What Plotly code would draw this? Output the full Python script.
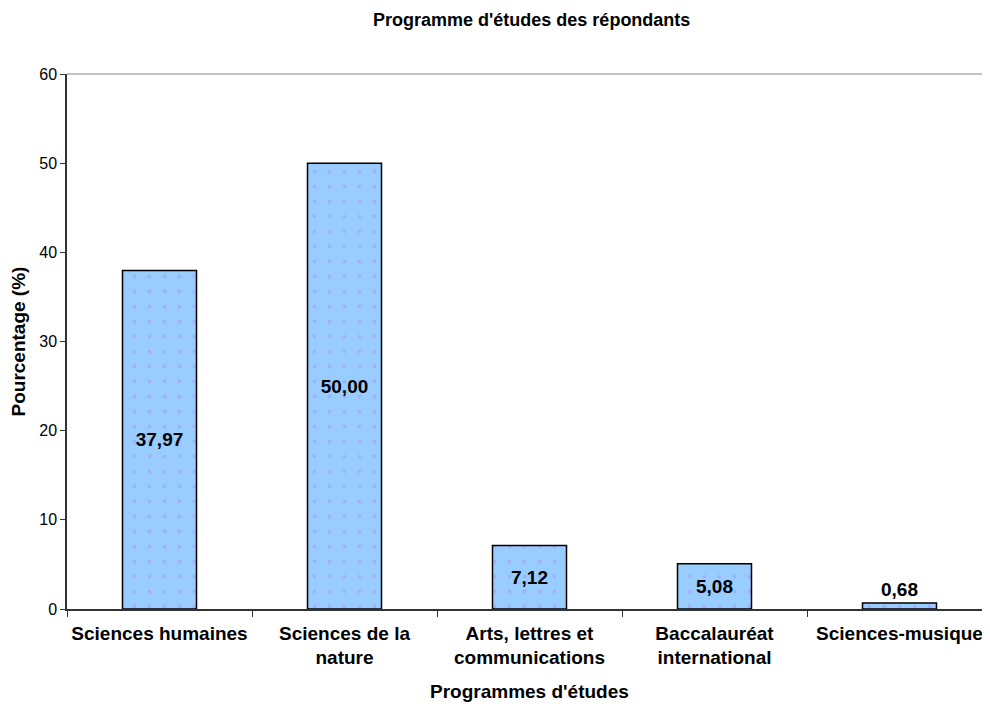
import plotly.graph_objects as go

categories = ["Sciences humaines", "Sciences de la<br>nature", "Arts, lettres et<br>communications",
              "Baccalauréat<br>international", "Sciences-musique"]
values = [37.97, 50.00, 7.12, 5.08, 0.68]
labels = [f"{v:.2f}".replace(".", ",") for v in values]
positions = ["inside", "inside", "inside", "inside", "outside"]
y_ticks = [0, 10, 20, 30, 40, 50, 60]

FONT = "Liberation Sans, Arial, sans-serif"
LBL = dict(family=FONT, size=19, color="black", weight="bold")

fig = go.Figure(go.Bar(
    x=categories, y=values, text=labels, textposition=positions,
    insidetextanchor="middle", textangle=0, cliponaxis=False,
    textfont=LBL, outsidetextfont=LBL, insidetextfont=LBL,
    marker=dict(color="#99CCFF", line=dict(color="black", width=1.5),
                pattern=dict(shape=".", fgcolor="#A894F5", bgcolor="#99CCFF", size=15, solidity=0.05)),
    width=0.4,
))

fig.update_layout(
    width=990, height=704,
    margin=dict(l=59, r=6, t=66, b=103),
    plot_bgcolor="white", paper_bgcolor="white",
    showlegend=False,
    font=dict(family=FONT, color="black"),
    title=dict(text="<b>Programme d'études des répondants</b>", x=0.529, xanchor="center",
               y=0.983, yanchor="middle", font=dict(size=18, family=FONT)),
    xaxis=dict(showline=True, linecolor="#333333", linewidth=1.5, tickson="boundaries",
               ticks="outside", ticklen=6, tickcolor="#333333", showgrid=False, automargin=False,
               tickangle=0, ticklabelstandoff=6,
               tickfont=dict(size=19, family=FONT, weight="bold"), range=[-0.5, 4.5]),
    yaxis=dict(range=[0, 60], tickvals=y_ticks, showline=True, linecolor="#333333", linewidth=1.5,
               ticks="outside", ticklen=5, tickcolor="#333333", showgrid=False, zeroline=False,
               automargin=False, tickfont=dict(size=16, family=FONT)),
    shapes=[dict(type="line", xref="paper", yref="paper", x0=0, x1=1, y0=1, y1=1,
                 line=dict(color="#888888", width=1.2))],
    annotations=[
        dict(text="<b>Programmes d'études</b>", xref="paper", yref="paper", x=0.5, y=0,
             xanchor="center", yanchor="middle", yshift=-82, showarrow=False,
             font=dict(size=19, family=FONT)),
        dict(text="<b>Pourcentage (%)</b>", xref="paper", yref="paper", x=0, y=0.5,
             xanchor="center", yanchor="middle", xshift=-49, textangle=-90, showarrow=False,
             font=dict(size=19, family=FONT)),
    ],
)

fig.write_html("out.html")
